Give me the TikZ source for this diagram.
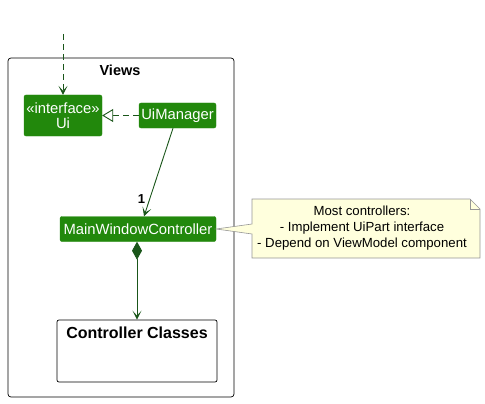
\documentclass[tikz,border=0pt]{standalone}
\usepackage{fontspec}
\setmainfont{Liberation Sans}
\usetikzlibrary{arrows.meta}
\definecolor{boxgreen}{RGB}{34,136,12}
\definecolor{linegreen}{RGB}{26,86,26}
\definecolor{notefill}{RGB}{255,255,221}
\definecolor{noteline}{RGB}{150,150,150}
\tikzset{
  cls/.style={draw=boxgreen, fill=boxgreen, text=white, rounded corners=2pt, inner sep=2pt,
    font=\fontsize{14.8}{16}\selectfont, align=center},
  conn/.style={draw=linegreen, line width=0.9pt},
  dep/.style={conn, dash pattern=on 6pt off 4pt},
  tip/.style={-{Stealth[length=9pt,width=9pt,inset=5pt]}},
}
\begin{document}
\begin{tikzpicture}[x=1pt,y=-1pt]
\useasboundingbox (0,0) rectangle (485,404);
% Views package
\draw[line width=0.7pt, rounded corners=3pt] (8,58) rectangle (234,397);
\node[font=\bfseries\fontsize{14.5}{16}\selectfont] (viewsTitle) at (120,70) {Views};
% classes
\node[cls, minimum width=78pt, minimum height=41pt] (ui) at (63,115.5) {«interface»\\[-1pt]Ui};
\node[cls, minimum width=77pt, minimum height=25pt] (uim) at (177.5,115.5) {UiManager};
\node[cls, minimum width=156pt, minimum height=25pt] (mwc) at (138,229) {MainWindowController};
\node[draw, line width=0.7pt, rounded corners=2pt, minimum width=160pt, minimum height=62pt] (cc) at (137,351) {};
\node[font=\bfseries\fontsize{16}{18}\selectfont] (ccTitle) at (137,333) {Controller Classes};
% note
\draw[draw=noteline, fill=notefill, line width=0.6pt]
  (252,199) -- (470,199) -- (480,209) -- (480,258) -- (252,258) -- (252,234) -- (mwc.east) -- (252,224) -- cycle;
\draw[draw=noteline, line width=0.6pt] (470,199) -- (470,209) -- (480,209);
\node[align=center, font=\fontsize{13.2}{16}\selectfont, inner sep=0pt] (note) at (362,228.5)
  {Most controllers:\\- Implement UiPart interface\\- Depend on ViewModel component};
% connectors
\coordinate (topin) at (63,34);
\draw[dep, tip] (topin) -- (ui.north);
\draw[dep, -{Triangle[open, fill=white, length=11pt, width=13pt]}] (uim.west) -- (ui.east);
\draw[conn, tip] (uim.south -| 173,0) -- (mwc.north -| 144,0) node[pos=0.8, left=1pt, font=\bfseries\fontsize{13}{14}\selectfont, text=black] {1};
\draw[conn, {Diamond[length=18pt,width=10pt]}-{Stealth[length=9pt,width=9pt,inset=5pt]}] (mwc.south -| 137,0) -- (cc.north);
\end{tikzpicture}
\end{document}
